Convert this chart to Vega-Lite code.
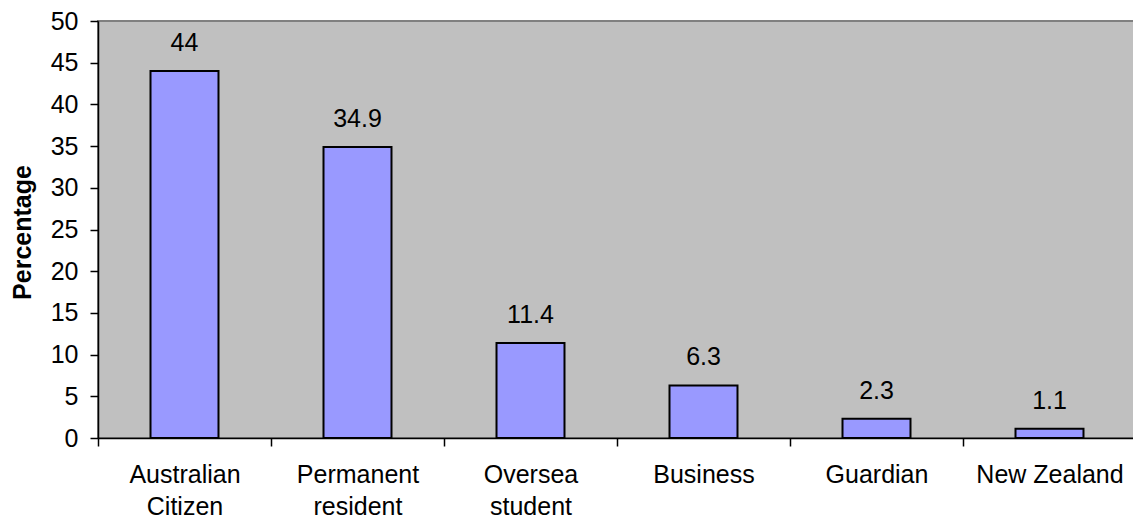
{
  "$schema": "https://vega.github.io/schema/vega-lite/v6.json",
  "autosize": {"type": "none"},
  "padding": {"left": 98, "top": 21, "right": 0, "bottom": 82},
  "width": 1038,
  "height": 417,
  "background": "white",
  "config": {
    "font": "Liberation Sans",
    "view": {"fill": "#C0C0C0", "stroke": "#808080", "strokeWidth": 2},
    "axis": {"grid": false, "domainColor": "#000000", "domainWidth": 1.5, "tickColor": "#000000", "tickWidth": 1.5, "labelColor": "#000000", "labelFont": "Liberation Sans", "labelFontSize": 25, "titleFont": "Liberation Sans"}
  },
  "data": {
    "values": [
      {"category": "Australian Citizen", "value": 44},
      {"category": "Permanent resident", "value": 34.9},
      {"category": "Oversea student", "value": 11.4},
      {"category": "Business", "value": 6.3},
      {"category": "Guardian", "value": 2.3},
      {"category": "New Zealand", "value": 1.1}
    ]
  },
  "encoding": {
    "x": {
      "field": "category", "type": "nominal", "sort": null,
      "scale": {"paddingInner": 0, "paddingOuter": 0},
      "axis": {
        "title": null, "labelAngle": 0, "tickBand": "extent", "tickSize": 8,
        "labelPadding": 16, "labelLineHeight": 32, "labelBaseline": "top",
        "labelExpr": "datum.value == null ? '' : (datum.value == 'New Zealand' ? datum.value : split(datum.value, ' '))"
      }
    },
    "y": {
      "field": "value", "type": "quantitative",
      "scale": {"domain": [0, 50], "nice": false},
      "axis": {
        "values": [0, 5, 10, 15, 20, 25, 30, 35, 40, 45, 50],
        "tickSize": 8, "labelPadding": 12,
        "title": "Percentage", "titleFontSize": 25, "titleFontWeight": "bold", "titleColor": "#000000",
        "titleX": -76, "titleY": 211, "titleBaseline": "middle", "titleAngle": -90
      }
    }
  },
  "layer": [
    {"mark": {"type": "bar", "fill": "#9999FF", "stroke": "#000000", "strokeWidth": 2, "width": {"band": 0.393}}},
    {"mark": {"type": "text", "fontSize": 25, "color": "#000000", "baseline": "alphabetic", "dy": -20, "font": "Liberation Sans"},
     "encoding": {"text": {"field": "value", "type": "quantitative"}}}
  ]
}
